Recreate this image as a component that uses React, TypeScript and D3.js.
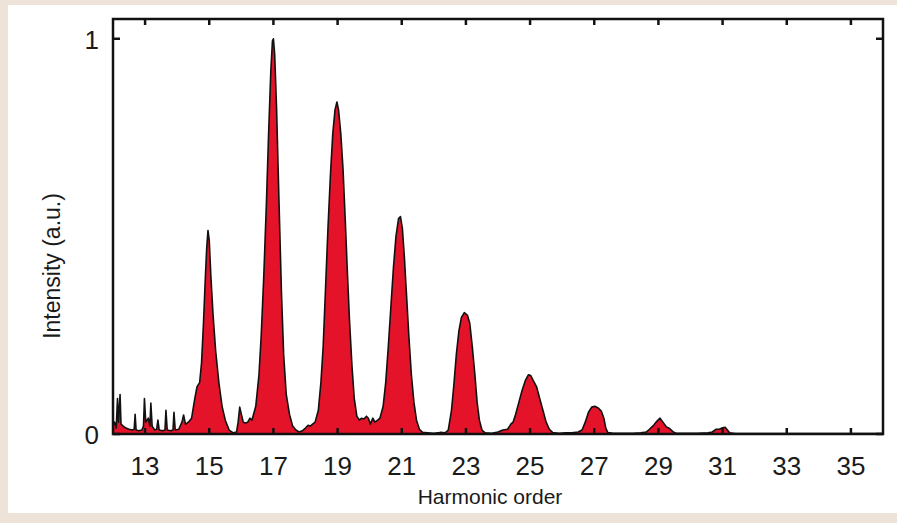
import { useRef, useEffect } from 'react';
import * as d3 from 'd3';

// Spectrum: harmonic order vs normalised intensity
const harmonicOrder: number[] = [
  12.0, 12.05, 12.1, 12.14, 12.17, 12.22, 12.25, 12.32, 12.4, 12.5, 12.6, 12.66, 12.69, 12.72, 12.8,
  12.9, 12.95, 12.98, 13.02, 13.1, 13.15, 13.18, 13.22, 13.3, 13.36, 13.4, 13.44, 13.55, 13.62, 13.65,
  13.69, 13.8, 13.87, 13.9, 13.94, 14.05, 14.15, 14.2, 14.26, 14.35, 14.45,
  14.55, 14.62, 14.7, 14.76, 14.82, 14.87, 14.92, 14.96, 15.0, 15.05, 15.12, 15.2, 15.3, 15.4, 15.5,
  15.62, 15.75, 15.85, 15.9, 15.95, 16.0, 16.06, 16.12, 16.2, 16.27, 16.33,
  16.45, 16.55, 16.62, 16.7, 16.78, 16.85, 16.92, 16.97, 17.0, 17.04, 17.1, 17.17, 17.25, 17.32, 17.4,
  17.5, 17.6, 17.7, 17.8, 17.9, 18.0, 18.08, 18.15, 18.22, 18.3,
  18.4, 18.48, 18.55, 18.62, 18.7, 18.78, 18.85, 18.92, 18.98, 19.03, 19.1, 19.17, 19.24, 19.3, 19.37,
  19.45, 19.52, 19.6, 19.68, 19.75, 19.82, 19.9, 19.96, 20.02, 20.1, 20.16, 20.25, 20.32,
  20.42, 20.5, 20.58, 20.66, 20.74, 20.82, 20.9, 20.96, 21.02, 21.08, 21.15, 21.22, 21.3, 21.38, 21.46,
  21.55, 21.65, 21.8, 22.0, 22.2, 22.35,
  22.45, 22.55, 22.62, 22.7, 22.78, 22.86, 22.95, 23.05, 23.12, 23.2, 23.28, 23.35, 23.42, 23.5, 23.6,
  23.8, 24.0, 24.15, 24.3, 24.4, 24.47,
  24.55, 24.65, 24.75, 24.85, 24.95, 25.02, 25.1, 25.2, 25.3, 25.4, 25.5, 25.6, 25.7, 25.9, 26.1, 26.3,
  26.5, 26.62,
  26.72, 26.82, 26.92, 27.02, 27.12, 27.22, 27.3, 27.36, 27.42, 27.6, 27.9, 28.2, 28.45, 28.62,
  28.72, 28.85, 28.95, 29.05, 29.14, 29.25, 29.35, 29.45, 29.55, 29.8, 30.2, 30.55,
  30.68, 30.8, 30.9, 31.0, 31.08, 31.15, 31.22, 31.4, 32.0, 33.0, 34.0, 35.0, 36.0,
];

const intensity: number[] = [
  0.02, 0.03, 0.015, 0.09, 0.03, 0.1, 0.025, 0.02, 0.015, 0.012, 0.01, 0.012, 0.05, 0.01, 0.008,
  0.01, 0.02, 0.09, 0.03, 0.04, 0.02, 0.078, 0.02, 0.01, 0.012, 0.035, 0.01, 0.008, 0.01, 0.06,
  0.01, 0.008, 0.01, 0.055, 0.01, 0.012, 0.03, 0.048, 0.025, 0.03, 0.04,
  0.09, 0.12, 0.13, 0.18, 0.28, 0.38, 0.47, 0.515, 0.49, 0.4, 0.3, 0.21, 0.13, 0.07, 0.035,
  0.01, 0.003, 0.005, 0.03, 0.068, 0.05, 0.03, 0.028, 0.03, 0.04, 0.035,
  0.07, 0.15, 0.25, 0.4, 0.58, 0.76, 0.92, 0.995, 1.0, 0.96, 0.82, 0.6, 0.36, 0.2, 0.1,
  0.05, 0.02, 0.01, 0.005, 0.008, 0.015, 0.022, 0.02, 0.025, 0.03,
  0.06, 0.13, 0.22, 0.36, 0.52, 0.66, 0.76, 0.82, 0.84, 0.82, 0.76, 0.67, 0.54, 0.42, 0.29,
  0.17, 0.09, 0.045, 0.035, 0.04, 0.038, 0.045, 0.04, 0.025, 0.04, 0.03, 0.035, 0.04,
  0.07, 0.13, 0.22, 0.32, 0.42, 0.5, 0.545, 0.55, 0.52, 0.45, 0.35, 0.25, 0.15, 0.08, 0.035,
  0.012, 0.004, 0.003, 0.002, 0.004, 0.003,
  0.01, 0.06, 0.12, 0.2, 0.26, 0.295, 0.307, 0.3, 0.28, 0.22, 0.15, 0.08, 0.035, 0.01, 0.003,
  0.002, 0.005, 0.01, 0.012, 0.025, 0.03,
  0.05, 0.08, 0.11, 0.135, 0.15, 0.148, 0.135, 0.12, 0.09, 0.06, 0.03, 0.012, 0.004, 0.002, 0.003, 0.003,
  0.005, 0.01,
  0.03, 0.055, 0.068, 0.07, 0.066, 0.058, 0.04, 0.015, 0.004, 0.002, 0.002, 0.002, 0.003, 0.005,
  0.012, 0.022, 0.032, 0.04, 0.03, 0.018, 0.014, 0.006, 0.002, 0.002, 0.002, 0.003,
  0.005, 0.012, 0.012, 0.016, 0.017, 0.01, 0.003, 0.001, 0.001, 0.001, 0.001, 0.001, 0.001,
];

const xTicks: number[] = [13, 15, 17, 19, 21, 23, 25, 27, 29, 31, 33, 35];
const yTicks: number[] = [0, 1];

export default function App() {
  const chartRef = useRef<SVGSVGElement | null>(null);

  useEffect(() => {
    if (!chartRef.current) return;

    const width = 897;
    const height = 523;
    const left = 113, right = 883, top = 19, bottom = 434;
    const font = '"Liberation Sans", Arial, sans-serif';

    const svg = d3.select(chartRef.current);
    svg.selectAll('*').remove();

    // photo frame + white card
    svg.append('rect').attr('width', width).attr('height', height).attr('fill', '#ede3d9');
    svg.append('rect').attr('x', 8).attr('y', 5).attr('width', width - 8).attr('height', 508).attr('fill', '#ffffff');

    const x = d3.scaleLinear().domain([12, 36]).range([left, right]);
    const y = d3.scaleLinear().domain([0, 1.05]).range([bottom, top]);

    const points: [number, number][] = harmonicOrder.map((h, i) => [h, intensity[i]]);

    const area = d3.area<[number, number]>()
      .x((d) => x(d[0]))
      .y0(y(0))
      .y1((d) => y(d[1]));

    const line = d3.line<[number, number]>()
      .x((d) => x(d[0]))
      .y((d) => y(d[1]));

    svg.append('path')
      .datum(points)
      .attr('d', area)
      .attr('fill', '#e5132a');

    svg.append('path')
      .datum(points)
      .attr('d', line)
      .attr('fill', 'none')
      .attr('stroke', '#111')
      .attr('stroke-width', 1.6)
      .attr('stroke-linejoin', 'round');

    // frame
    svg.append('rect')
      .attr('x', left).attr('y', top)
      .attr('width', right - left).attr('height', bottom - top)
      .attr('fill', 'none').attr('stroke', '#111').attr('stroke-width', 2.5);

    // inward ticks
    const g = svg.append('g').attr('stroke', '#111').attr('stroke-width', 2.5);
    xTicks.forEach((t) => {
      g.append('line').attr('x1', x(t)).attr('x2', x(t)).attr('y1', bottom).attr('y2', bottom - 6);
      g.append('line').attr('x1', x(t)).attr('x2', x(t)).attr('y1', top).attr('y2', top + 6);
    });
    yTicks.forEach((t) => {
      g.append('line').attr('x1', left).attr('x2', left + 7).attr('y1', y(t)).attr('y2', y(t));
      g.append('line').attr('x1', right).attr('x2', right - 7).attr('y1', y(t)).attr('y2', y(t));
    });

    svg.append('g').selectAll('text')
      .data(xTicks)
      .enter()
      .append('text')
      .text((d) => String(d))
      .attr('x', (d) => x(d))
      .attr('y', 475)
      .attr('text-anchor', 'middle')
      .attr('font-family', font)
      .attr('font-size', '26px')
      .attr('fill', '#1a1a1a');

    svg.append('g').selectAll('text')
      .data(yTicks)
      .enter()
      .append('text')
      .text((d) => String(d))
      .attr('x', 99)
      .attr('y', (d) => y(d) + 10)
      .attr('text-anchor', 'end')
      .attr('font-family', font)
      .attr('font-size', '26px')
      .attr('fill', '#1a1a1a');

    svg.append('text')
      .text('Harmonic order')
      .attr('x', 490)
      .attr('y', 504)
      .attr('text-anchor', 'middle')
      .attr('font-family', font)
      .attr('font-size', '21px')
      .attr('fill', '#1a1a1a');

    svg.append('text')
      .text('Intensity (a.u.)')
      .attr('transform', 'translate(60,266) rotate(-90)')
      .attr('text-anchor', 'middle')
      .attr('font-family', font)
      .attr('font-size', '23px')
      .attr('fill', '#1a1a1a');
  }, []);

  return (
    <div style={{ position: 'absolute', left: 0, top: 0 }}>
      <svg ref={chartRef} width={897} height={523}></svg>
    </div>
  );
}
